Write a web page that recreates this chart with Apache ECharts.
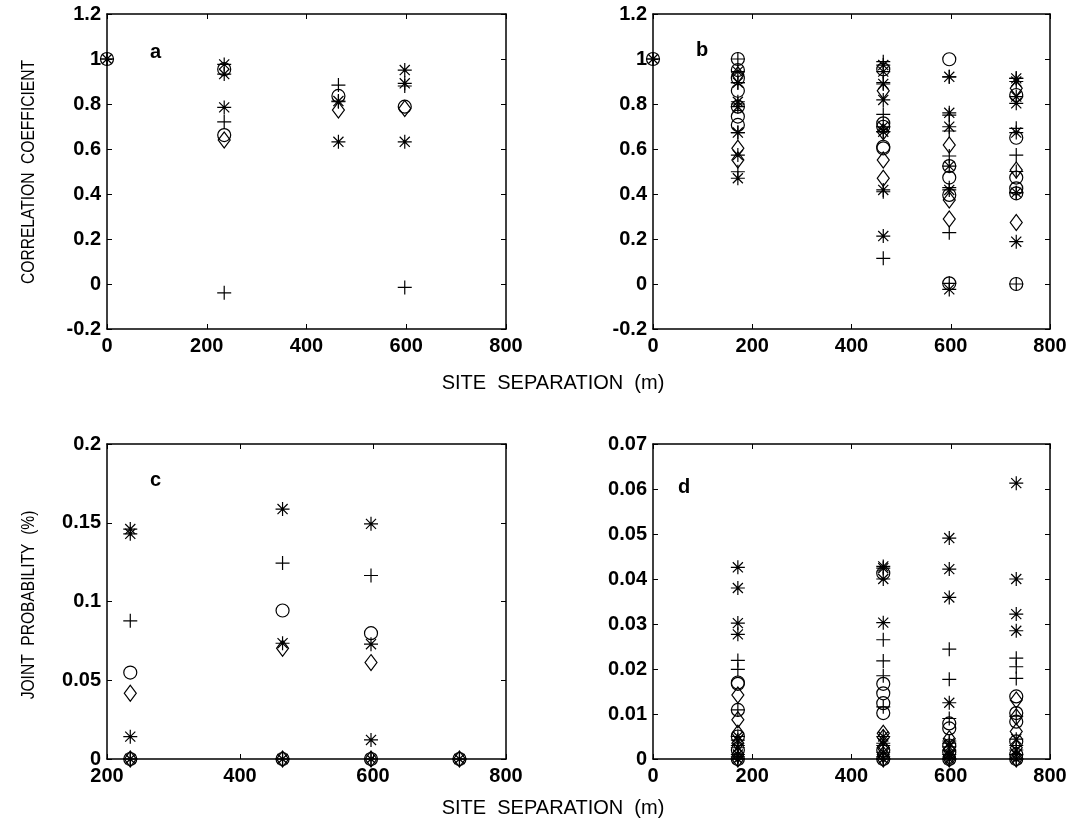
<!DOCTYPE html>
<html>
<head>
<meta charset="utf-8">
<script src="https://cdn.jsdelivr.net/npm/echarts@6/dist/echarts.min.js"></script>
<style>
  html, body { margin: 0; padding: 0; background: #fff; }
  #chart { width: 1071px; height: 827px; }
</style>
</head>
<body>
<div id="chart"></div>
<script>
// Site separations (m) of each station group
const sepA = [0, 235, 464, 597];
const sepB = [0, 171, 464, 597, 732];
const sepC = [235, 464, 597, 730];
const sepD = [171, 464, 597, 732];

// Panel a: correlation coefficient, one list per separation
const aPlus     = [[1], [0.721, -0.039], [0.884, 0.81], [0.88, -0.015]];
const aCircle   = [[1], [0.955, 0.662], [0.836], [0.788]];
const aDiamond  = [[], [0.64], [0.773], [0.78]];
const aAsterisk = [[1], [0.976, 0.933, 0.785], [0.813, 0.632], [0.951, 0.892, 0.632]];

// Panel b: correlation coefficient
const bPlus     = [[1], [1.0, 0.895, 0.8, 0.673, 0.499], [0.988, 0.895, 0.754, 0.677, 0.41, 0.114],
                   [0.921, 0.751, 0.68, 0.569, 0.428, 0.228, 0.003], [0.914, 0.692, 0.573, 0.5, 0.406, 0.0]];
const bCircle   = [[1], [1.0, 0.951, 0.914, 0.859, 0.788, 0.744, 0.707], [0.954, 0.714, 0.699, 0.61, 0.603],
                   [0.999, 0.524, 0.473, 0.396, 0.003], [0.84, 0.65, 0.473, 0.425, 0.403, 0.0]];
const bDiamond  = [[], [0.93, 0.603, 0.551], [0.859, 0.677, 0.551, 0.47],
                   [0.618, 0.373, 0.289], [0.87, 0.507, 0.273]];
const bAsterisk = [[1], [0.944, 0.895, 0.81, 0.788, 0.673, 0.573, 0.47], [0.973, 0.944, 0.889, 0.818, 0.699, 0.677, 0.418, 0.213],
                   [0.921, 0.761, 0.699, 0.524, 0.418, -0.024], [0.914, 0.9, 0.833, 0.803, 0.673, 0.406, 0.188]];

// Panel c: joint probability (%)
const cPlus     = [[0.0877, 0], [0.1244, 0], [0.1165, 0], [0]];
const cCircle   = [[0.0549, 0], [0.0943, 0], [0.0799, 0], [0]];
const cDiamond  = [[0.0417, 0], [0.0703, 0], [0.0612, 0], [0]];
const cAsterisk = [[0.146, 0.143, 0.0142, 0], [0.1587, 0.0735, 0], [0.1493, 0.0729, 0.0121, 0], [0]];

// Panel d: joint probability (%)
const dPlus     = [[0.0219, 0.0199, 0.0109, 0.003, 0.0005, 0], [0.0265, 0.0218, 0.0185, 0.0116, 0.003, 0.0005, 0],
                   [0.0244, 0.0177, 0.009, 0.004, 0.002, 0], [0.0224, 0.0205, 0.0179, 0.0095, 0.003, 0]];
const dCircle   = [[0.017, 0.0167, 0.0109, 0.005, 0.002, 0], [0.0413, 0.0167, 0.0146, 0.0124, 0.0102, 0.002, 0],
                   [0.0079, 0.0068, 0.003, 0.0015, 0], [0.0139, 0.0102, 0.0083, 0.0039, 0.001, 0]];
const dDiamond  = [[0.0142, 0.0087, 0.0057, 0.0035, 0.001, 0], [0.0057, 0.0048, 0.0025, 0.001, 0],
                   [0.0045, 0.002, 0.0005, 0], [0.0131, 0.0094, 0.0061, 0.0025, 0]];
const dAsterisk = [[0.0426, 0.038, 0.0302, 0.0277, 0.005, 0.0042, 0.0025, 0.001, 0],
                   [0.0428, 0.0424, 0.040, 0.0303, 0.005, 0.0035, 0.0015, 0],
                   [0.0491, 0.0422, 0.0359, 0.0125, 0.0035, 0.0027, 0.001, 0],
                   [0.0613, 0.040, 0.0322, 0.0285, 0.0044, 0.002, 0.001, 0]];

// Axis ranges
const xRanges = [[0, 800, 200], [0, 800, 200], [200, 800, 200], [0, 800, 200]];
const yRanges = [[-0.2, 1.2, 0.2], [-0.2, 1.2, 0.2], [0, 0.2, 0.05], [0, 0.07, 0.01]];
const panelLetters = ['a', 'b', 'c', 'd'];
const xTitle = 'SITE  SEPARATION  (m)';
const yTitles = ['CORRELATION  COEFFICIENT', 'JOINT  PROBABILITY  (%)'];

const grids = [
  { left: 107, top: 14, width: 399, height: 315 },
  { left: 653, top: 14, width: 397, height: 315 },
  { left: 107, top: 444, width: 399, height: 315 },
  { left: 653, top: 444, width: 397, height: 315 }
];

const MARKERS = {
  plus: { symbol: 'path://M0,-1L0,1M-1,0L1,0', size: 14 },
  circle: { symbol: 'circle', size: 13 },
  diamond: { symbol: 'diamond', size: [12, 16] },
  asterisk: { symbol: 'path://M0,-1L0,1M-1,0L1,0M-0.72,-0.72L0.72,0.72M-0.72,0.72L0.72,-0.72', size: 14 }
};

const panels = [
  { sep: sepA, sets: { plus: aPlus, circle: aCircle, diamond: aDiamond, asterisk: aAsterisk } },
  { sep: sepB, sets: { plus: bPlus, circle: bCircle, diamond: bDiamond, asterisk: bAsterisk } },
  { sep: sepC, sets: { plus: cPlus, circle: cCircle, diamond: cDiamond, asterisk: cAsterisk } },
  { sep: sepD, sets: { plus: dPlus, circle: dCircle, diamond: dDiamond, asterisk: dAsterisk } }
];

const FONT = 'Liberation Sans, Arial, sans-serif';
const lineStyle = { color: '#000', width: 1.5 };
const tickStyle = { color: '#000', width: 1 };

const xAxes = [], yAxes = [], series = [];
grids.forEach((g, i) => {
  const [xmin, xmax, xint] = xRanges[i];
  const [ymin, ymax, yint] = yRanges[i];
  const common = {
    type: 'value', gridIndex: i, splitLine: { show: false },
    axisLine: { show: true, onZero: false, lineStyle },
    axisTick: { show: true, inside: true, length: 5, lineStyle: tickStyle }
  };
  xAxes.push(Object.assign({}, common, {
    min: xmin, max: xmax, interval: xint, position: 'bottom',
    axisLabel: { color: '#000', fontFamily: FONT, fontWeight: 'bold', fontSize: 20, margin: 7 }
  }));
  xAxes.push(Object.assign({}, common, {
    min: xmin, max: xmax, interval: xint, position: 'top', axisLabel: { show: false }
  }));
  yAxes.push(Object.assign({}, common, {
    min: ymin, max: ymax, interval: yint, position: 'left',
    axisLabel: { color: '#000', fontFamily: FONT, fontWeight: 'bold', fontSize: 20, margin: 6 }
  }));
  yAxes.push(Object.assign({}, common, {
    min: ymin, max: ymax, interval: yint, position: 'right', axisLabel: { show: false }
  }));

  const p = panels[i];
  Object.keys(MARKERS).forEach(key => {
    const m = MARKERS[key];
    const data = [];
    p.sets[key].forEach((vals, k) => vals.forEach(v => data.push([p.sep[k], v])));
    series.push({
      type: 'scatter', xAxisIndex: i * 2, yAxisIndex: i * 2,
      symbol: m.symbol, symbolSize: m.size, clip: false, silent: true,
      itemStyle: { color: 'rgba(0,0,0,0)', borderColor: '#000', borderWidth: 1.2, opacity: 1 },
      emphasis: { disabled: true },
      data
    });
  });
});

const graphic = [];
const letterPos = [[150, 42], [696, 40], [150, 470], [678, 477]];
panelLetters.forEach((t, i) => graphic.push({
  type: 'text', left: letterPos[i][0], top: letterPos[i][1],
  style: { text: t, fill: '#000', font: 'bold 20px ' + FONT }
}));
[383, 808].forEach(y => graphic.push({
  type: 'text', x: 553, y: y,
  style: { text: xTitle, fill: '#000', font: '20px ' + FONT, align: 'center', verticalAlign: 'middle' }
}));
// vertical titles: tall, narrow lettering
[[172, 0], [605, 1]].forEach(([y, k]) => graphic.push({
  type: 'text', x: 29, y: y, rotation: Math.PI / 2, scaleX: 0.82,
  style: { text: yTitles[k], fill: '#000', font: '19px ' + FONT, align: 'center', verticalAlign: 'middle' }
}));

const chart = echarts.init(document.getElementById('chart'), null, { renderer: 'canvas' });
chart.setOption({
  animation: false,
  backgroundColor: '#fff',
  grid: grids,
  xAxis: xAxes,
  yAxis: yAxes,
  series,
  graphic
});
</script>
</body>
</html>
